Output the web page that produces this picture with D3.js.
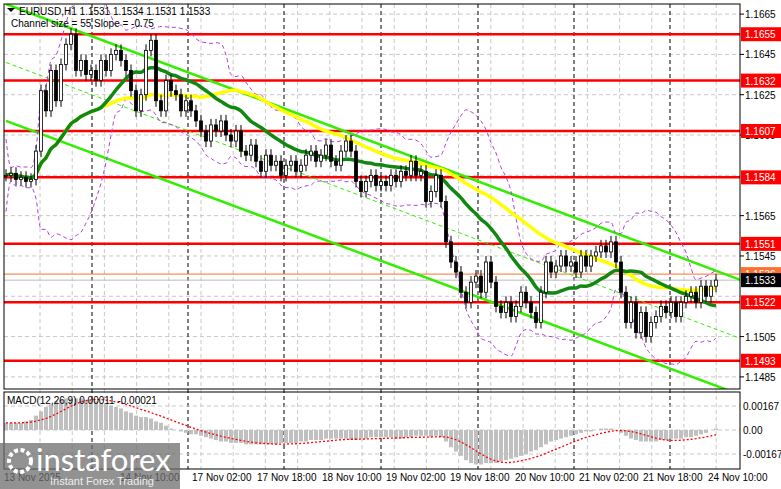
<!DOCTYPE html>
<html><head><meta charset="utf-8">
<script src="https://cdn.jsdelivr.net/npm/d3@7"></script>
<style>body{margin:0;background:#fff}svg{display:block;font-family:"Liberation Sans",Arial,sans-serif}</style>
</head><body><svg id="c" width="781" height="489"></svg>
<script>
const closes=[1.1585,1.1586,1.1583,1.1584,1.1582,1.1583,1.1597,1.1627,1.1617,1.1637,1.1622,1.1640,1.1650,1.1655,1.1637,1.1642,1.1635,1.1637,1.1632,1.1642,1.1637,1.1645,1.1647,1.1642,1.1637,1.1627,1.1617,1.1625,1.1647,1.1652,1.1622,1.1617,1.1632,1.1627,1.1625,1.1617,1.1622,1.1617,1.1612,1.1607,1.1602,1.1610,1.1607,1.1612,1.1605,1.1602,1.1607,1.1597,1.1595,1.1600,1.1592,1.1587,1.1595,1.1590,1.1592,1.1585,1.1590,1.1592,1.1587,1.1590,1.1595,1.1597,1.1592,1.1595,1.1600,1.1592,1.1590,1.1597,1.1602,1.1597,1.1582,1.1577,1.1582,1.1585,1.1580,1.1582,1.1580,1.1585,1.1582,1.1587,1.1585,1.1592,1.1585,1.1587,1.1572,1.1577,1.1585,1.1572,1.1552,1.1542,1.1537,1.1527,1.1522,1.1532,1.1535,1.1527,1.1542,1.1532,1.1520,1.1517,1.1522,1.1515,1.1520,1.1527,1.1522,1.1517,1.1512,1.1527,1.1542,1.1537,1.1540,1.1545,1.1540,1.1542,1.1537,1.1545,1.1540,1.1545,1.1547,1.1550,1.1547,1.1552,1.1542,1.1527,1.1512,1.1522,1.1507,1.1517,1.1505,1.1512,1.1515,1.1520,1.1517,1.1522,1.1515,1.1522,1.1525,1.1527,1.1522,1.1530,1.1525,1.1530,1.1533];
const macd=[5,5,5,5,6,7,10,13,16,18,20,21,22,22,22,22,21,21,20,19,18,17,16,15,13,12,10,9,9,8,6,5,3,1,0,-1,-2,-3,-3,-4,-5,-6,-7,-8,-8,-9,-9,-9,-10,-10,-10,-10,-10,-10,-10,-9,-9,-9,-9,-8,-8,-7,-7,-7,-6,-6,-6,-6,-6,-7,-7,-6,-6,-5,-5,-5,-5,-5,-6,-6,-5,-5,-4,-4,-4,-5,-4,-5,-8,-12,-15,-18,-21,-23,-24,-24,-23,-23,-23,-22,-21,-20,-19,-18,-17,-15,-14,-12,-10,-8,-7,-6,-5,-4,-3,-2,-1,-1,0,1,1,1,0,-2,-4,-6,-7,-8,-8,-8,-8,-7,-7,-6,-6,-6,-5,-5,-4,-3,-2,0,1];
const levels=[1.1655,1.1632,1.1607,1.1584,1.1551,1.1522,1.1493];
const priceTicks=[1.1665,1.1645,1.1625,1.1605,1.1565,1.1545,1.1505,1.1485];
const timeLabels=[{i:37.2,t:"17 Nov 02:00"},{i:50.2,t:"17 Nov 18:00"},{i:63.2,t:"18 Nov 10:00"},{i:76,t:"19 Nov 02:00"},{i:88.8,t:"19 Nov 18:00"},{i:101.8,t:"20 Nov 10:00"},{i:114.6,t:"21 Nov 02:00"},{i:127.4,t:"21 Nov 18:00"},{i:140.4,t:"24 Nov 10:00"}];
const dayLines=[17.2,36.4,55.6,75,94.4,113.6,132.8];
const channelUpper=[1.1670,1.1533];
const channelLower=[1.1612,1.1476];
const channelMid=[1.1641,1.1504];
const bidPrice=1.1533, askPrice=1.1536;

const svg=d3.select("#c");
const L=4,R=740,T=4,B=389,MT=392,MB=469;
const x=d3.scaleLinear().domain([0,142]).range([6,716]);
const y=d3.scaleLinear().domain([1.1479,1.1670]).range([B,T]);
const ym=d3.scaleLinear().domain([-27,27]).range([430+38.8,430-38.8]);

svg.append("defs").append("clipPath").attr("id","cp").append("rect").attr("x",L).attr("y",T).attr("width",R-L).attr("height",B-T);
svg.append("defs").append("clipPath").attr("id","cm").append("rect").attr("x",L).attr("y",MT).attr("width",R-L).attr("height",MB-MT);

const g=svg.append("g");
priceTicks.concat([1.1585,1.1525]).forEach(p=>g.append("line").attr("x1",L).attr("x2",R).attr("y1",y(p)).attr("y2",y(p)).attr("stroke","#c8c8c8").attr("stroke-dasharray","4,3"));
for(let k=0;k<23;k++){const xx=L+36+k*32.2; if(xx<R) g.append("line").attr("x1",xx).attr("x2",xx).attr("y1",T).attr("y2",MB).attr("stroke","#c8c8c8").attr("stroke-dasharray","4,3");}
dayLines.forEach(i=>g.append("line").attr("x1",x(i)).attr("x2",x(i)).attr("y1",T).attr("y2",MB).attr("stroke","#000").attr("stroke-dasharray","4,3"));
[0.00167,0,-0.00167].forEach(v=>g.append("line").attr("x1",L).attr("x2",R).attr("y1",ym(v*1e4)).attr("y2",ym(v*1e4)).attr("stroke","#c8c8c8").attr("stroke-dasharray","4,3"));

const mp=svg.append("g").attr("clip-path","url(#cp)");
levels.forEach(p=>mp.append("line").attr("x1",L).attr("x2",R).attr("y1",y(p)).attr("y2",y(p)).attr("stroke","#ff0000").attr("stroke-width",2.5));
mp.append("line").attr("x1",L).attr("x2",R).attr("y1",y(askPrice)).attr("y2",y(askPrice)).attr("stroke","#ff7030").attr("stroke-width",1);
mp.append("line").attr("x1",L).attr("x2",R).attr("y1",y(bidPrice)).attr("y2",y(bidPrice)).attr("stroke","#bbb").attr("stroke-width",1);

const chan=(a,dash,w)=>mp.append("line").attr("x1",x(0)).attr("x2",x(147)).attr("y1",y(a[0])).attr("y2",y(a[1])).attr("stroke","#33ee00").attr("stroke-width",w).attr("stroke-dasharray",dash);
chan(channelUpper,null,2.5);chan(channelLower,null,2.5);chan(channelMid,"4,3",1);

const n=closes.length;
const sma=(arr,p,i)=>{const s=arr.slice(Math.max(0,i-p+1),i+1);return d3.mean(s);};
const bbU=[],bbL=[];
for(let i=0;i<n;i++){const s=closes.slice(Math.max(0,i-15),i+1);const m=d3.mean(s),sd=s.length>1?d3.deviation(s):0.0008;bbU.push(m+2*sd+0.0002);bbL.push(m-2*sd-0.0002);}
const ln=d3.line().x((d,i)=>x(i)).y(d=>y(d)).curve(d3.curveMonotoneX);
[bbU,bbL].forEach(a=>mp.append("path").attr("d",ln(a)).attr("fill","none").attr("stroke","#b040e0").attr("stroke-width",1).attr("stroke-dasharray","4,3"));

const ma1=closes.map((d,i)=>sma(closes,40,i));
const ma2=closes.map((d,i)=>sma(closes,20,i));
mp.append("path").attr("d",ln(ma1)).attr("fill","none").attr("stroke","#ffff00").attr("stroke-width",3.5);
mp.append("path").attr("d",ln(ma2)).attr("fill","none").attr("stroke","#118811").attr("stroke-width",3.5);

closes.forEach((c,i)=>{
  const o=i?closes[i-1]:c; const hi=Math.max(o,c)+0.0003, lo=Math.min(o,c)-0.0003;
  mp.append("line").attr("x1",x(i)).attr("x2",x(i)).attr("y1",y(hi)).attr("y2",y(lo)).attr("stroke","#000");
  const top=y(Math.max(o,c)),h=Math.max(1,Math.abs(y(o)-y(c)));
  mp.append("rect").attr("x",x(i)-1.5).attr("y",top).attr("width",3).attr("height",h).attr("fill",c>=o?"#fff":"#000").attr("stroke","#000").attr("stroke-width",0.8);
});

const mg=svg.append("g").attr("clip-path","url(#cm)");
macd.forEach((v,i)=>mg.append("rect").attr("x",x(i)-2).attr("width",4).attr("y",Math.min(ym(v),ym(0))).attr("height",Math.abs(ym(v)-ym(0))).attr("fill","#c0c0c0"));
const sig=macd.map((d,i)=>sma(macd,9,i));
mg.append("path").attr("d",d3.line().x((d,i)=>x(i)).y(d=>ym(d))(sig)).attr("fill","none").attr("stroke","#ff0000").attr("stroke-width",1.3).attr("stroke-dasharray","2,2");

svg.append("rect").attr("x",L).attr("y",T).attr("width",R-L).attr("height",B-T).attr("fill","none").attr("stroke","#000");
svg.append("rect").attr("x",L).attr("y",MT).attr("width",R-L).attr("height",MB-MT).attr("fill","none").attr("stroke","#000");

const ax=svg.append("g").attr("font-size",10);
priceTicks.forEach(p=>{ax.append("line").attr("x1",R).attr("x2",R+4).attr("y1",y(p)).attr("y2",y(p)).attr("stroke","#000");ax.append("text").attr("x",745).attr("y",y(p)+4).text(p.toFixed(4));});
const tag=(p,bg,fg)=>{ax.append("rect").attr("x",741).attr("y",y(p)-7).attr("width",40).attr("height",14).attr("fill",bg);ax.append("text").attr("x",745).attr("y",y(p)+4).attr("fill",fg).text(p.toFixed(4));};
tag(askPrice,"#ff7030","#fff");
levels.forEach(p=>tag(p,"#ff0000","#fff"));
tag(bidPrice,"#000","#fff");
[["0.00167",0.00167],["0.00",0],["-0.00167",-0.00167]].forEach(([t,v])=>ax.append("text").attr("x",743).attr("y",ym(v*1e4)+4).text(t));

const tx=svg.append("g").attr("font-size",10);
tx.append("text").attr("x",4).attr("y",481).text("13 Nov 2025");
tx.append("text").attr("x",120).attr("y",481).text("14 Nov 10:00");
timeLabels.forEach(d=>tx.append("text").attr("x",x(d.i)).attr("y",481).text(d.t));

svg.append("path").attr("d","M7,8 L15,8 L11,12 Z").attr("fill","#000");
svg.append("text").attr("x",19).attr("y",15).attr("font-size",10).text("EURUSD,H1  1.1531 1.1534 1.1531 1.1533");
svg.append("text").attr("x",11).attr("y",27).attr("font-size",10).text("Channel size = 55 Slope = -0.75");
svg.append("text").attr("x",7).attr("y",404).attr("font-size",10).text("MACD(12,26,9) 0.00011 -0.00021");

svg.append("rect").attr("x",0).attr("y",443).attr("width",180).attr("height",46).attr("fill","#6e6e6e").attr("opacity",0.75);
svg.append("circle").attr("cx",20).attr("cy",461).attr("r",11).attr("fill","none").attr("stroke","#fff").attr("stroke-width",4).attr("stroke-dasharray","4,2.5");
svg.append("text").attr("x",36).attr("y",471).attr("font-size",31).attr("fill","#fff").attr("font-family","Lato,sans-serif").text("instaforex");
svg.append("text").attr("x",50).attr("y",485).attr("font-size",11).attr("fill","#eee").text("Instant Forex Trading");
</script></body></html>
